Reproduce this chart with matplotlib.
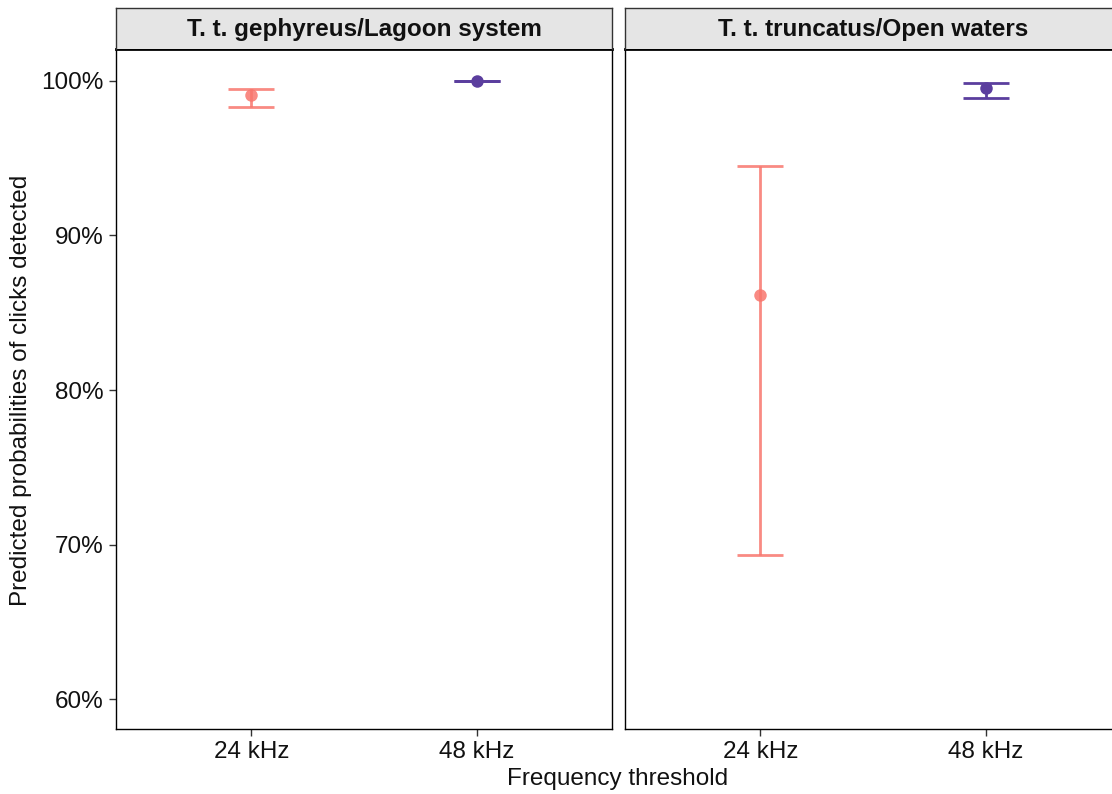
import matplotlib
matplotlib.use("Agg")
import matplotlib.pyplot as plt
from matplotlib.ticker import FuncFormatter

plt.rcParams['font.family'] = ['Liberation Sans', 'DejaVu Sans']

# predicted probabilities (%) with confidence limits, per population panel
panels = ["T. t. gephyreus/Lagoon system", "T. t. truncatus/Open waters"]
thresholds = ["24 kHz", "48 kHz"]
estimate = [[99.08, 100.0], [86.15, 99.56]]
lower = [[98.34, 99.97], [69.32, 98.90]]
upper = [[99.45, 100.0], [94.48, 99.86]]
colors = ["#F8766D", "#5B3E9E"]
alphas = [0.85, 1.0]
y_ticks = [60, 70, 80, 90, 100]

W, H = 1112, 794
fig = plt.figure(figsize=(W / 100, H / 100), dpi=100)

panel_left = [116, 625]
panel_w = 496
top, bottom = 49, 729
strip_top = 8
fs = 17.5

for p, title in enumerate(panels):
    ax = fig.add_axes([panel_left[p] / W, (H - bottom) / H,
                       panel_w / W, (bottom - top) / H])
    for i in range(len(thresholds)):
        x = i + 1
        ax.errorbar(x, estimate[p][i],
                    yerr=[[estimate[p][i] - lower[p][i]], [upper[p][i] - estimate[p][i]]],
                    fmt='none', ecolor=colors[i], alpha=alphas[i],
                    elinewidth=2, capsize=16.5, capthick=2, zorder=3)
        ax.plot(x, estimate[p][i], 'o', color=colors[i], alpha=alphas[i],
                ms=9, mew=0, zorder=4)
    ax.set_xlim(0.4, 2.6)
    ax.set_ylim(58.06, 102.07)
    ax.set_xticks([1, 2])
    ax.set_xticklabels(thresholds)
    ax.set_yticks(y_ticks)
    ax.yaxis.set_major_formatter(FuncFormatter(lambda v, _: f"{v:.0f}%"))
    ax.tick_params(axis='both', labelsize=fs, length=5, width=1, color='#333333',
                   labelcolor='#111111', pad=4)
    if p > 0:
        ax.tick_params(axis='y', left=False, labelleft=False)
    for s in ax.spines.values():
        s.set_linewidth(1)
        s.set_color('black')
    ax.spines['top'].set_linewidth(2)

    # facet strip
    sax = fig.add_axes([panel_left[p] / W, (H - top) / H,
                        panel_w / W, (top - strip_top) / H])
    sax.set_facecolor('#E5E5E5')
    sax.set_xticks([])
    sax.set_yticks([])
    for s in sax.spines.values():
        s.set_color('#333333')
        s.set_linewidth(1)
    sax.spines['bottom'].set_visible(False)
    sax.text(0.5, 0.48, title, transform=sax.transAxes, ha='center', va='center',
             fontsize=fs, fontweight='bold', color='#111111')

fig.text(618 / W, 1 - 779 / H, "Frequency threshold", ha='center', va='center',
         fontsize=fs, color='#111111')
fig.text(21 / W, 1 - 390 / H, "Predicted probabilities of clicks detected",
         ha='center', va='center', rotation=90, fontsize=fs, color='#111111')

fig.savefig("out.png", dpi=100)
